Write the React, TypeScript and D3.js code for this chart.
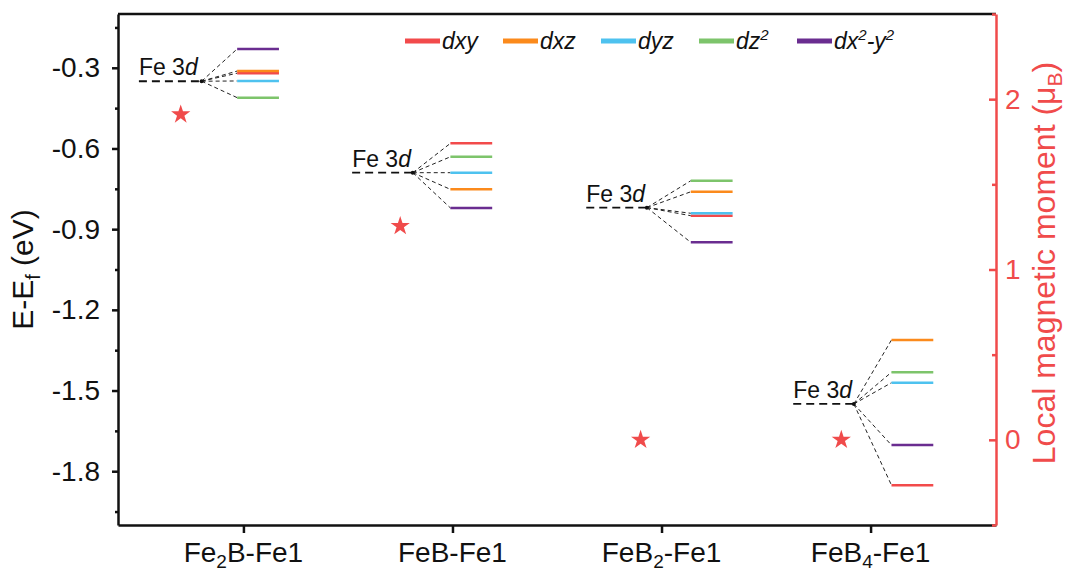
import React, { useEffect, useRef } from 'react';
import * as d3 from 'd3';

// categories (label split into text / subscript / text)
const categories = ['Fe2B-Fe1', 'FeB-Fe1', 'FeB2-Fe1', 'FeB4-Fe1'];
const categoryLabels = [
  ['Fe', '2', 'B-Fe1'],
  ['FeB-Fe1', '', ''],
  ['FeB', '2', '-Fe1'],
  ['FeB', '4', '-Fe1'],
];

// energy levels (eV), one value per category
const fe3d = [-0.35, -0.69, -0.82, -1.55];
const dxy = [-0.32, -0.581, -0.85, -1.852];
const dxz = [-0.312, -0.752, -0.761, -1.312];
const dyz = [-0.349, -0.69, -0.841, -1.471];
const dz2 = [-0.411, -0.631, -0.72, -1.432];
const dx2y2 = [-0.23, -0.821, -0.949, -1.703];

// local magnetic moment (muB) and where the star sits on the x axis
const moment = [1.91, 1.255, 0, 0];
const momentX = [0.7, 1.75, 2.9, 3.86];

// x extent (axis units) of the Fe 3d reference level and of the split levels
const refFrom = [0.5, 1.52, 2.64, 3.63];
const refTo = [0.8, 1.81, 2.93, 3.92];
const levelFrom = [0.97, 1.99, 3.14, 4.1];
const levelTo = [1.17, 2.19, 3.34, 4.3];

const yTicks = [-1.8, -1.5, -1.2, -0.9, -0.6, -0.3];
const yMinor = [-1.95, -1.65, -1.35, -1.05, -0.75, -0.45, -0.15];
const momentTicks = [0, 1, 2];
const momentMinor = [-0.5, 0.5, 1.5, 2.5];

const orbitals = [
  { key: 'dxy', values: dxy },
  { key: 'dxz', values: dxz },
  { key: 'dyz', values: dyz },
  { key: 'dz2', values: dz2 },
  { key: 'dx2y2', values: dx2y2 },
];
const colors = {
  dxy: '#f24a4b',
  dxz: '#fb8a1c',
  dyz: '#4ec2ef',
  dz2: '#7dc46b',
  dx2y2: '#6a2d90',
};
const RED = '#f04b4b';
const FONT = '"Liberation Sans", Arial, sans-serif';

const App = () => {
  const ref = useRef<SVGSVGElement>(null);

  useEffect(() => {
    const svg = d3.select(ref.current);
    svg.selectAll('*').remove();

    const left = 118, right = 996, top = 14, bottom = 525;

    const x = d3.scaleLinear().domain([0.4, 4.6]).range([left, right]);
    const y = d3.scaleLinear().domain([-2.0, -0.1]).range([bottom, top]);
    const yR = d3.scaleLinear().domain([-0.5, 2.5]).range([bottom, top]);

    svg.append('rect').attr('width', 1065).attr('height', 579).attr('fill', 'white');

    // levels + fan lines
    categories.forEach((c, i) => {
      const g = svg.append('g');
      const nx = x(refTo[i]), ny = y(fe3d[i]);

      orbitals.forEach(o => {
        g.append('line')
          .attr('x1', nx).attr('y1', ny)
          .attr('x2', x(levelFrom[i])).attr('y2', y(o.values[i]))
          .attr('stroke', '#222').attr('stroke-width', 1)
          .attr('stroke-dasharray', '4,3');
      });

      orbitals.forEach(o => {
        g.append('line')
          .attr('x1', x(levelFrom[i])).attr('x2', x(levelTo[i]))
          .attr('y1', y(o.values[i])).attr('y2', y(o.values[i]))
          .attr('stroke', colors[o.key]).attr('stroke-width', 2.5);
      });

      g.append('line')
        .attr('x1', x(refFrom[i])).attr('x2', nx)
        .attr('y1', ny).attr('y2', ny)
        .attr('stroke', '#111').attr('stroke-width', 1.8)
        .attr('stroke-dasharray', '8,5');
      g.append('circle').attr('cx', nx).attr('cy', ny).attr('r', 2).attr('fill', '#111');

      const t = g.append('text')
        .attr('x', x(refFrom[i])).attr('y', ny - 6)
        .attr('font-family', FONT).attr('font-size', 23).attr('fill', '#111');
      t.append('tspan').text('Fe 3');
      t.append('tspan').attr('font-style', 'italic').text('d');
    });

    // stars (right axis)
    svg.selectAll('.star')
      .data(moment)
      .enter().append('path')
      .attr('class', 'star')
      .attr('d', d3.symbol().type(d3.symbolStar).size(115))
      .attr('transform', (d, i) => `translate(${x(momentX[i])},${yR(d)})`)
      .attr('fill', RED);

    // left axis
    const gl = svg.append('g').attr('transform', `translate(${left},0)`);
    gl.call(d3.axisLeft(y).tickValues(yTicks).tickSize(6).tickSizeOuter(0).tickPadding(12)
      .tickFormat(d => (+d).toFixed(1)));
    gl.append('g').call(d3.axisLeft(y).tickValues(yMinor).tickSize(3).tickFormat(() => ''))
      .select('.domain').remove();
    gl.selectAll('text').attr('font-family', FONT).attr('font-size', 28).attr('fill', '#111');
    gl.selectAll('.domain, .tick line').attr('stroke', '#111').attr('stroke-width', 2.5);

    // bottom axis
    const gb = svg.append('g').attr('transform', `translate(0,${bottom})`);
    gb.call(d3.axisBottom(x).tickValues([1, 2, 3, 4]).tickSize(8).tickSizeOuter(0).tickFormat(() => ''));
    gb.selectAll('.domain, .tick line').attr('stroke', '#111').attr('stroke-width', 2.5);
    categoryLabels.forEach((p, i) => {
      const t = gb.append('text')
        .attr('x', x(i + 1)).attr('y', 37)
        .attr('text-anchor', 'middle')
        .attr('font-family', FONT).attr('font-size', 28).attr('fill', '#111');
      t.append('tspan').text(p[0]);
      if (p[1]) {
        t.append('tspan').attr('font-size', 19).attr('dy', 6).text(p[1]);
        t.append('tspan').attr('dy', -6).text(p[2]);
      }
    });

    // top border
    svg.append('line')
      .attr('x1', left).attr('x2', right).attr('y1', top).attr('y2', top)
      .attr('stroke', '#111').attr('stroke-width', 2.5);

    // right axis
    const gr = svg.append('g').attr('transform', `translate(${right},0)`);
    gr.call(d3.axisRight(yR).tickValues(momentTicks).tickSize(-7).tickSizeOuter(0).tickPadding(9)
      .tickFormat(d => String(d)));
    gr.append('g').call(d3.axisRight(yR).tickValues(momentMinor).tickSize(-4).tickFormat(() => ''))
      .select('.domain').remove();
    gr.selectAll('text').attr('font-family', FONT).attr('font-size', 28).attr('fill', RED);
    gr.selectAll('.domain, .tick line').attr('stroke', RED).attr('stroke-width', 2.5);

    // axis titles
    const tl = svg.append('text')
      .attr('transform', `translate(33,${(top + bottom) / 2}) rotate(-90)`)
      .attr('text-anchor', 'middle')
      .attr('font-family', FONT).attr('font-size', 30).attr('fill', '#111');
    tl.append('tspan').text('E-E');
    tl.append('tspan').attr('font-size', 20).attr('dy', 7).text('f');
    tl.append('tspan').attr('dy', -7).text(' (eV)');

    const tr = svg.append('text')
      .attr('transform', `translate(1055,263) rotate(-90)`)
      .attr('text-anchor', 'middle')
      .attr('font-family', FONT).attr('font-size', 32).attr('fill', RED);
    tr.append('tspan').text('Local magnetic moment (\u03bc');
    tr.append('tspan').attr('font-size', 21).attr('dy', 7).text('B');
    tr.append('tspan').attr('dy', -7).text(')');

    // legend
    const legendLabels = [
      [['dxy', 0]],
      [['dxz', 0]],
      [['dyz', 0]],
      [['dz', 0], ['2', 1]],
      [['dx', 0], ['2', 1], ['-y', 0], ['2', 1]],
    ];
    const lg = svg.append('g').attr('transform', 'translate(405,41)');
    orbitals.forEach((o, i) => {
      const item = lg.append('g').attr('transform', `translate(${i * 98},0)`);
      item.append('line').attr('x1', 0).attr('x2', 35).attr('y1', 0).attr('y2', 0)
        .attr('stroke', colors[o.key]).attr('stroke-width', 5);
      const t = item.append('text')
        .attr('x', 37).attr('y', 8)
        .attr('font-family', FONT).attr('font-size', 23).attr('font-style', 'italic').attr('fill', '#111');
      let shifted = 0;
      (legendLabels[i] as [string, number][]).forEach(([s, sup]) => {
        const dy = sup ? -9 - shifted : -shifted;
        shifted += dy;
        t.append('tspan').attr('dy', dy).attr('font-size', sup ? 15 : 23).text(s);
      });
    });
  }, []);

  return (
    <svg ref={ref} width={1065} height={579} style={{ position: 'absolute', left: 0, top: 0 }}></svg>
  );
};

export default App;
